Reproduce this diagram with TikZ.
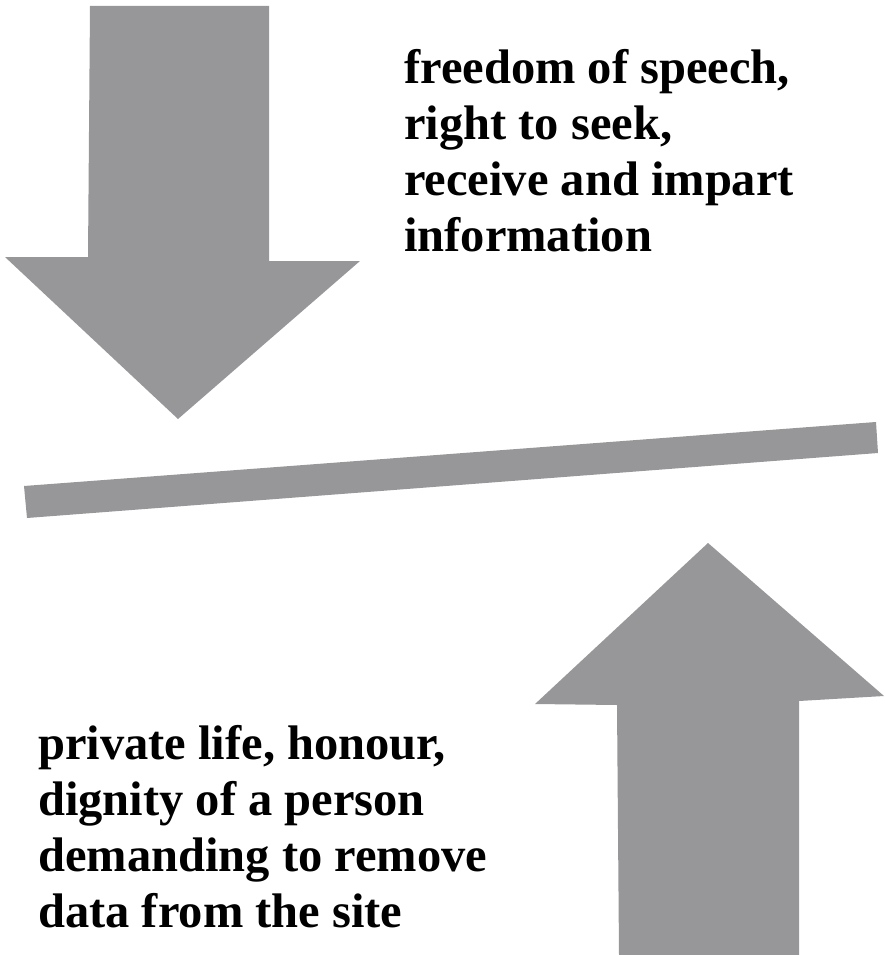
\documentclass[tikz,border=0pt]{standalone}
\usepackage{fontspec}
\setmainfont{Liberation Serif}
\definecolor{arrowgray}{RGB}{151,151,153}
\tikzset{
    bigarrow/.style={fill=arrowgray, draw=none},
    label text/.style={anchor=north west, inner sep=0pt, align=left,
        font=\fontsize{48.5}{56}\selectfont\bfseries}
}
\begin{document}
\begin{tikzpicture}[x=1pt, y=-1pt]
    % page frame (pixel coordinates, y pointing down)
    \useasboundingbox (0,0) rectangle (884,955);

    % Arrow from above
    \fill[bigarrow] (90,6) -- (269,6) -- (269,261) -- (360,261) -- (178,419)
        -- (5,257) -- (88,257) -- cycle;

    % Tilted beam between the two arrows
    \fill[bigarrow] (24,486) -- (876,422) -- (878,453) -- (27,518) -- cycle;

    % Arrow from below
    \fill[bigarrow] (619,955) -- (617,705) -- (535,704) -- (708,543)
        -- (884,696) -- (799,701) -- (799,955) -- cycle;

    % Labels
    \node[label text] (rights) at (404,49) {freedom of speech,\\ right to seek,\\
        receive and impart\\ information};
    \node[label text] (privacy) at (38,725) {private life, honour,\\
        dignity of a person\\ demanding to remove\\ data from the site};
\end{tikzpicture}
\end{document}
